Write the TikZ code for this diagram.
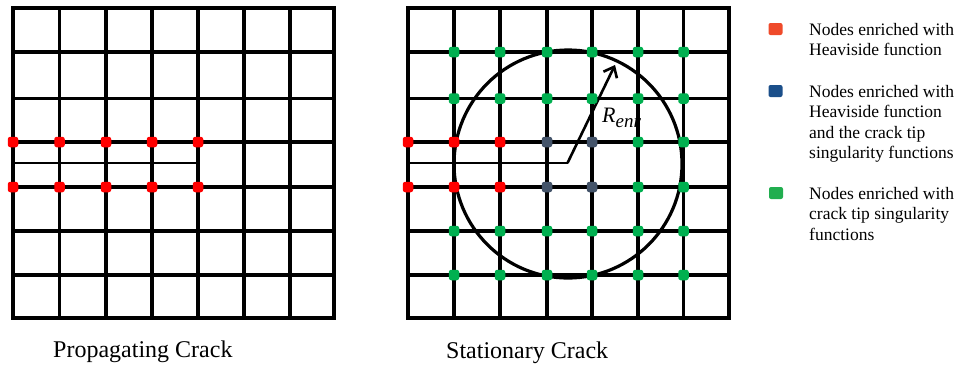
\documentclass[tikz,border=0pt]{standalone}
\usepackage{fontspec}
\setmainfont{Liberation Serif}
\usetikzlibrary{arrows.meta}
\definecolor{dotred}{HTML}{FF0000}
\definecolor{dotblue}{HTML}{44546A}
\definecolor{dotgreen}{HTML}{00B050}
\definecolor{legred}{HTML}{EF4A2A}
\definecolor{legblue}{HTML}{1B4F8A}
\definecolor{leggreen}{HTML}{21AE4F}
\tikzset{
  gridline/.style={line width=3.1pt, black},
  border/.style={line width=3.4pt, black},
  crackline/.style={line width=2.6pt, black},
  dotbase/.style={rectangle, rounded corners=2.5pt, minimum size=10.5pt, inner sep=0pt, draw=none},
  rdot/.style={dotbase, fill=dotred},
  bdot/.style={dotbase, fill=dotblue},
  gdot/.style={dotbase, fill=dotgreen},
  legsq/.style={rectangle, rounded corners=2pt, minimum width=14pt, minimum height=12pt, inner sep=0pt, draw=none},
  legtext/.style={anchor=north west, inner sep=0pt, align=left, font=\fontsize{17.5}{20.5}\selectfont},
  caption/.style={anchor=base west, inner sep=0pt, font=\fontsize{24}{28}\selectfont}
}
\begin{document}
\begin{tikzpicture}[x=1pt, y=-1pt]
\useasboundingbox (0,0) rectangle (960,368);
% ---------- left grid ----------
\foreach \x in {59.5,106,152,198,244,290}
  \draw[gridline] (\x,8) -- (\x,318);
\foreach \y in {52,98.5,142,187,231,275}
  \draw[gridline] (13,\y) -- (334,\y);
\draw[border] (13,8) rectangle (334,318);
\draw[crackline] (13,163) -- (196.5,163);
% ---------- right grid ----------
\foreach \x in {454,500,547,592,638,683.5}
  \draw[gridline] (\x,8) -- (\x,318);
\foreach \y in {52,98.5,142,187,231,275}
  \draw[gridline] (408,\y) -- (729,\y);
\draw[border] (408,8) rectangle (729,318);
\coordinate (tip) at (567.5,163);
\coordinate (rend) at (615,65);
\draw[crackline] (408,163) -- (tip);
\draw[line width=3.2pt] (568,164) circle[radius=114pt];
\draw[crackline, -{Straight Barb[length=9pt, width=15pt, line width=2.6pt]}] (tip) -- (rend);
\node[anchor=base west, inner sep=0pt] (renr) at (602,122)
  {\fontsize{22}{22}\selectfont\textit{R}\raisebox{-5pt}{\fontsize{19}{19}\selectfont\textit{enr}}};
% ---------- left dots ----------
\foreach \x [count=\i] in {13,59.5,106,152,198} {
  \node[rdot] (LA\i) at (\x,142) {};
  \node[rdot] (LB\i) at (\x,187) {};
}
% ---------- right dots ----------
\foreach \x [count=\i] in {408,454,500} {
  \node[rdot] (RA\i) at (\x,142) {};
  \node[rdot] (RB\i) at (\x,187) {};
}
\foreach \x [count=\i] in {547,592} {
  \node[bdot] (BA\i) at (\x,142) {};
  \node[bdot] (BB\i) at (\x,187) {};
}
\foreach \x [count=\i] in {638,683.5} {
  \node[gdot] (GA\i) at (\x,142) {};
  \node[gdot] (GB\i) at (\x,187) {};
}
\foreach \y [count=\j] in {52,98.5,231,275}
  \foreach \x [count=\i] in {454,500,547,592,638,683.5}
    \node[gdot] (G\j-\i) at (\x,\y) {};
% ---------- legend ----------
\node[legsq, fill=legred] (lsq1) at (775.5,29) {};
\node[legsq, fill=legblue] (lsq2) at (775.5,91) {};
\node[legsq, fill=leggreen] (lsq3) at (776,193) {};
\node[legtext] (lt1) at (809,23) {Nodes enriched with\\Heaviside function};
\node[legtext] (lt2) at (809,85) {Nodes enriched with\\Heaviside function\\and the crack tip\\singularity functions};
\node[legtext] (lt3) at (809,187) {Nodes enriched with\\crack tip singularity\\functions};
% ---------- captions ----------
\node[caption] (cap1) at (53,357) {Propagating Crack};
\node[caption] (cap2) at (446,358) {Stationary Crack};
\end{tikzpicture}
\end{document}
